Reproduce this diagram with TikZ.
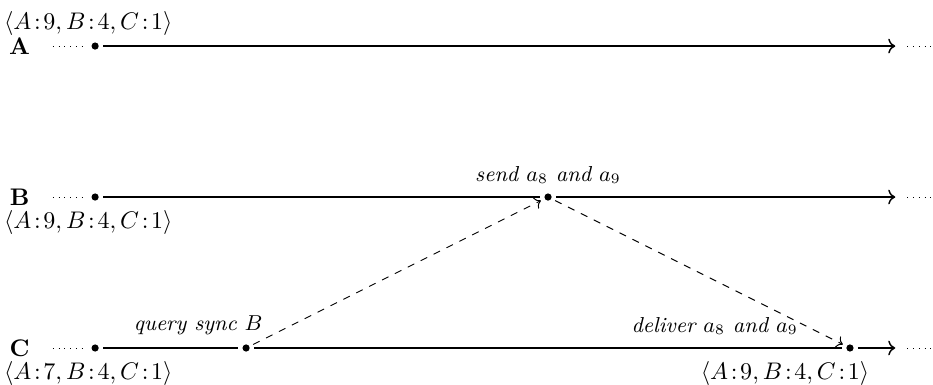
\documentclass[tikz,border=0pt]{standalone}
\usepackage{amsmath,amssymb}
\usepackage{tikz}
\usetikzlibrary{arrows.meta, positioning, calc}

\begin{document}
\begin{tikzpicture}[
    x=2.21cm, y=2.21cm,
    event/.style={circle, fill, inner sep=0pt, minimum size=3pt, outer sep=1.8pt},
    proc/.style={font=\bfseries, inner sep=1pt},
    clock/.style={inner sep=1pt, xshift=-0.1cm},
    lowclock/.style={clock, yshift=-1pt},
    note/.style={font=\small\itshape, inner sep=2pt},
    life/.style={draw, ->, semithick},
    past/.style={draw, dotted},
    msg/.style={draw, dashed, ->}
]
    \useasboundingbox (-0.63,-0.245) rectangle (5.55,2.305);

    % Processes
    \node[proc] (pA) at (-0.5,2) {A};
    \node[proc] (pB) at (-0.5,1) {B};
    \node[proc] (pC) at (-0.5,0) {C};

    % Events
    \node[event, label={[clock]above:$\langle A\!:\!9, B\!:\!4, C\!:\!1\rangle$}] (a0) at (0,2) {};
    \node[event, label={[lowclock]below:$\langle A\!:\!9, B\!:\!4, C\!:\!1\rangle$}] (b0) at (0,1) {};
    \node[event, label={[note]above:send $a_8$ and $a_9$}] (b1) at (3,1) {};
    \node[event, label={[lowclock]below:$\langle A\!:\!7, B\!:\!4, C\!:\!1\rangle$}] (c0) at (0,0) {};
    \node[event, label={[note, xshift=-0.7cm]above:query sync $B$}] (c1) at (1,0) {};
    \node[event, label={[note, xshift=-1.98cm]above:deliver $a_8$ and $a_9$}] (c2) at (5,0) {};
    \node[lowclock, below=0pt of c2, xshift=-0.85cm] (c2clock) {$\langle A\!:\!9, B\!:\!4, C\!:\!1\rangle$};

    % Ends of the lifelines
    \foreach \p/\y in {A/2, B/1, C/0} {
        \coordinate (start\p) at (-0.28,\y);
        \coordinate (end\p) at (5.3,\y);
        \coordinate (more\p) at (5.38,\y);
        \coordinate (last\p) at (5.54,\y);
    }

    % Lifelines
    \draw[past] (startA) -- (a0);
    \draw[life] (a0) -- (endA);
    \draw[past] (moreA) -- (lastA);

    \draw[past] (startB) -- (b0);
    \draw[semithick] (b0) -- (b1);
    \draw[life] (b1) -- (endB);
    \draw[past] (moreB) -- (lastB);

    \draw[past] (startC) -- (c0);
    \draw[semithick] (c0) -- (c1);
    \draw[semithick] (c1) -- (c2);
    \draw[life] (c2) -- (endC);
    \draw[past] (moreC) -- (lastC);

    % Sync messages
    \draw[msg] (c1) -- (b1);
    \draw[msg] (b1) -- (c2);
\end{tikzpicture}
\end{document}
